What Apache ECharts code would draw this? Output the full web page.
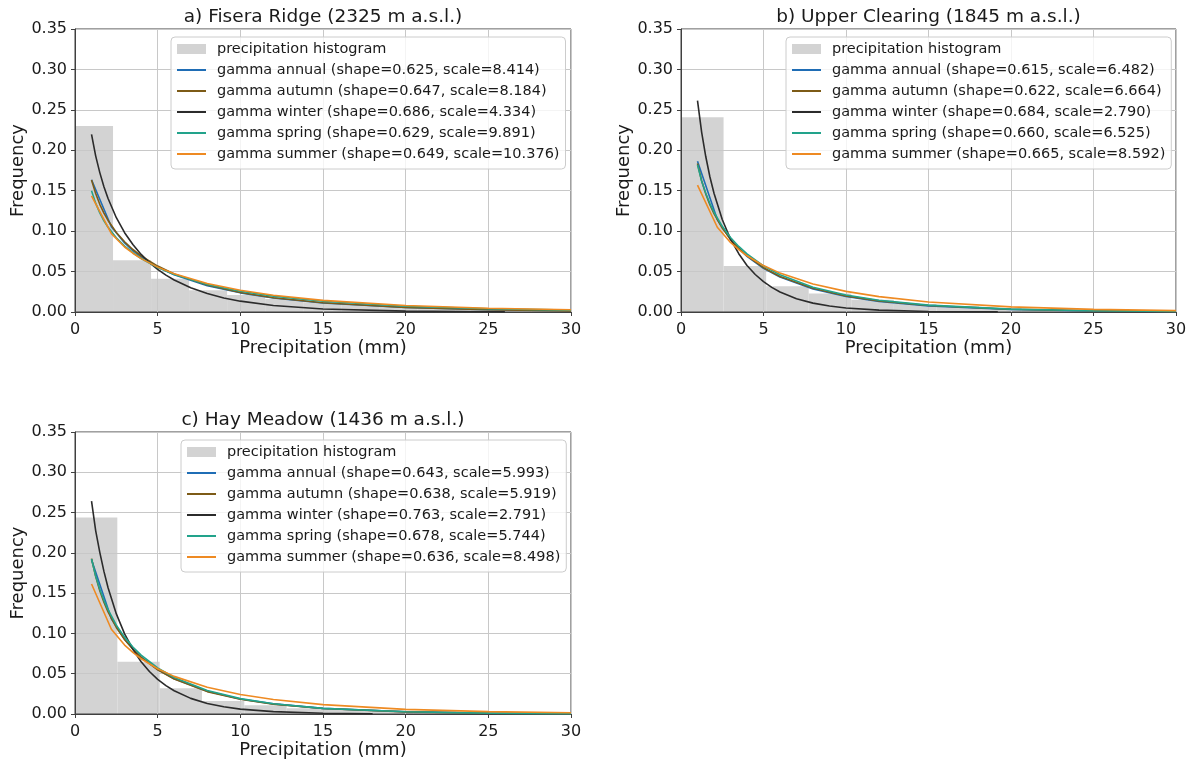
<!DOCTYPE html>
<html><head><meta charset="utf-8">
<script src="https://cdn.jsdelivr.net/npm/echarts@6/dist/echarts.min.js"></script>
<style>html,body{margin:0;padding:0;background:#fff}#c{width:1192px;height:764px}</style>
</head><body><div id="c"></div>
<script>
const FONT = 'DejaVu Sans';

// ---------- titles ----------
const titles = ['a) Fisera Ridge (2325 m a.s.l.)', 'b) Upper Clearing (1845 m a.s.l.)', 'c) Hay Meadow (1436 m a.s.l.)'];
const xAxisName = 'Precipitation (mm)';
const yAxisName = 'Frequency';
const xTicks = [0, 5, 10, 15, 20, 25, 30];
const yTicks = [0, 0.05, 0.10, 0.15, 0.20, 0.25, 0.30, 0.35];
const histName = 'precipitation histogram';

// ---------- histograms (bin width in mm, heights) ----------
const binWidthA = 2.3;
const histA = [0.230, 0.064, 0.041, 0.027, 0.021, 0.016, 0.012, 0.009, 0.007, 0.005, 0.004, 0.003, 0.002, 0.002];
const binWidthB = 2.58;
const histB = [0.241, 0.057, 0.032, 0.023, 0.015, 0.010, 0.007, 0.005, 0.003, 0.002, 0.002, 0.001];
const binWidthC = 2.56;
const histC = [0.244, 0.065, 0.032, 0.016, 0.011, 0.007, 0.005, 0.004, 0.003, 0.002, 0.002, 0.001];

// ---------- curve x grids ----------
const xsFine   = [1, 1.25, 1.5, 1.75, 2, 2.5, 3, 3.5, 4, 5, 6, 8, 10, 12, 15, 20, 25, 30];
const xsCoarse = [1, 2.2, 3, 3.5, 4, 5, 6, 8, 10, 12, 15, 20, 25, 30];
const xsWinterA = [1, 1.25, 1.5, 1.75, 2, 2.5, 3, 3.5, 4, 4.5, 5, 5.5, 6, 7, 8, 9, 10, 12, 15, 20, 25, 26];
const xsWinterB = [1, 1.25, 1.5, 1.75, 2, 2.5, 3, 3.5, 4, 4.5, 5, 5.5, 6, 7, 8, 9, 10, 12, 15, 19.2];
const xsWinterC = [1, 1.25, 1.5, 1.75, 2, 2.5, 3, 3.5, 4, 4.5, 5, 5.5, 6, 7, 8, 9, 10, 12, 15, 18];

// ---------- legend labels ----------
const labelsA = ['gamma annual (shape=0.625, scale=8.414)', 'gamma autumn (shape=0.647, scale=8.184)', 'gamma winter (shape=0.686, scale=4.334)', 'gamma spring (shape=0.629, scale=9.891)', 'gamma summer (shape=0.649, scale=10.376)'];
const labelsB = ['gamma annual (shape=0.615, scale=6.482)', 'gamma autumn (shape=0.622, scale=6.664)', 'gamma winter (shape=0.684, scale=2.790)', 'gamma spring (shape=0.660, scale=6.525)', 'gamma summer (shape=0.665, scale=8.592)'];
const labelsC = ['gamma annual (shape=0.643, scale=5.993)', 'gamma autumn (shape=0.638, scale=5.919)', 'gamma winter (shape=0.763, scale=2.791)', 'gamma spring (shape=0.678, scale=5.744)', 'gamma summer (shape=0.636, scale=8.498)'];

// ---------- curve values ----------
// panel a
const annualA = [0.1635, 0.1055, 0.0854, 0.0759, 0.0681, 0.0556, 0.0461, 0.0326, 0.0237, 0.0174, 0.0112, 0.0056, 0.0028, 0.0015];
const autumnA = [0.1633, 0.1465, 0.1332, 0.1223, 0.1132, 0.0984, 0.0868, 0.0773, 0.0694, 0.0568, 0.0471, 0.0333, 0.0241, 0.0177, 0.0114, 0.0056, 0.0028, 0.0014];
const winterA = [0.2198, 0.1931, 0.1724, 0.1549, 0.1404, 0.1166, 0.0981, 0.0834, 0.0712, 0.0611, 0.0527, 0.0456, 0.0395, 0.0299, 0.0228, 0.0174, 0.0134, 0.0080, 0.0037, 0.0011, 0.0003, 0.0002];
const springA = [0.1499, 0.1346, 0.1226, 0.1128, 0.1047, 0.0917, 0.0815, 0.0733, 0.0662, 0.0551, 0.0465, 0.0341, 0.0257, 0.0196, 0.0133, 0.0072, 0.0040, 0.0023];
const summerA = [0.1435, 0.0969, 0.0804, 0.0727, 0.0660, 0.0555, 0.0472, 0.0352, 0.0269, 0.0208, 0.0144, 0.0080, 0.0046, 0.0027];
// panel b
const annualB = [0.1865, 0.1144, 0.0897, 0.0786, 0.0688, 0.0541, 0.0433, 0.0284, 0.0192, 0.0131, 0.0076, 0.0031, 0.0013, 0.0006];
const autumnB = [0.1836, 0.1624, 0.1461, 0.1326, 0.1216, 0.1037, 0.0898, 0.0786, 0.0693, 0.0548, 0.0440, 0.0293, 0.0199, 0.0138, 0.0081, 0.0034, 0.0015, 0.0007];
const winterB = [0.2615, 0.2225, 0.1923, 0.1673, 0.1468, 0.1144, 0.0902, 0.0721, 0.0576, 0.0464, 0.0375, 0.0304, 0.0247, 0.0165, 0.0110, 0.0074, 0.0050, 0.0023, 0.0007, 0.0002];
const springB = [0.1821, 0.1620, 0.1469, 0.1341, 0.1234, 0.1060, 0.0922, 0.0811, 0.0718, 0.0571, 0.0460, 0.0307, 0.0210, 0.0145, 0.0085, 0.0036, 0.0015, 0.0007];
const summerB = [0.1569, 0.1048, 0.0860, 0.0772, 0.0695, 0.0574, 0.0481, 0.0346, 0.0255, 0.0190, 0.0124, 0.0063, 0.0033, 0.0017];
// panel c
const annualC = [0.1914, 0.1182, 0.0926, 0.0810, 0.0707, 0.0553, 0.0438, 0.0283, 0.0187, 0.0126, 0.0070, 0.0028, 0.0011, 0.0005];
const autumnC = [0.1929, 0.1708, 0.1530, 0.1387, 0.1267, 0.1074, 0.0924, 0.0805, 0.0703, 0.0548, 0.0433, 0.0278, 0.0183, 0.0122, 0.0068, 0.0026, 0.0010, 0.0004];
const winterC = [0.2642, 0.2276, 0.2006, 0.1770, 0.1567, 0.1242, 0.0995, 0.0804, 0.0649, 0.0528, 0.0430, 0.0352, 0.0288, 0.0194, 0.0131, 0.0089, 0.0061, 0.0029, 0.0009, 0.0003];
const springC = [0.1924, 0.1712, 0.1548, 0.1411, 0.1294, 0.1103, 0.0954, 0.0832, 0.0730, 0.0571, 0.0453, 0.0291, 0.0191, 0.0127, 0.0070, 0.0027, 0.0011, 0.0004];
const summerC = [0.1614, 0.1052, 0.0855, 0.0765, 0.0685, 0.0561, 0.0467, 0.0332, 0.0242, 0.0179, 0.0116, 0.0058, 0.0030, 0.0015];

const colors = ['#1f6db5', '#7d5b17', '#2b2b2b', '#22a38b', '#ee8a22'];
const histColor = '#d3d3d3';

// ---------- layout ----------
const grids = [
  {left: 75, top: 29, width: 496, height: 283},
  {left: 681, top: 29, width: 495, height: 283},
  {left: 75, top: 432, width: 496, height: 282}
];
const legendPos = [{left: 171, top: 37}, {left: 786, top: 37}, {left: 181, top: 440}];

const panels = [
  {hist: histA, bw: binWidthA, labels: labelsA,
   curves: [[xsCoarse, annualA], [xsFine, autumnA], [xsWinterA, winterA], [xsFine, springA], [xsCoarse, summerA]]},
  {hist: histB, bw: binWidthB, labels: labelsB,
   curves: [[xsCoarse, annualB], [xsFine, autumnB], [xsWinterB, winterB], [xsFine, springB], [xsCoarse, summerB]]},
  {hist: histC, bw: binWidthC, labels: labelsC,
   curves: [[xsCoarse, annualC], [xsFine, autumnC], [xsWinterC, winterC], [xsFine, springC], [xsCoarse, summerC]]}
];

const axisColor = '#404040';
const textColor = '#1a1a1a';
const gridLineColor = '#c8c8c8';

const option = {
  animation: false,
  backgroundColor: '#ffffff',
  grid: grids.map(g => Object.assign({show: true, borderColor: axisColor, borderWidth: 1, backgroundColor: 'transparent'}, g)),
  xAxis: [], yAxis: [], series: [], legend: [], graphic: []
};

panels.forEach((p, i) => {
  const g = grids[i];
  option.xAxis.push({
    type: 'value', gridIndex: i, min: xTicks[0], max: xTicks[xTicks.length - 1], interval: 5,
    name: xAxisName, nameLocation: 'middle', nameGap: 26,
    nameTextStyle: {fontSize: 18, fontFamily: FONT, color: textColor},
    axisLine: {show: true, onZero: false, lineStyle: {color: axisColor, width: 1}},
    axisTick: {show: true, length: 4, lineStyle: {color: axisColor, width: 1}},
    axisLabel: {fontSize: 16, fontFamily: FONT, color: textColor, margin: 10},
    splitLine: {show: true, lineStyle: {color: gridLineColor, width: 1}}
  });
  option.yAxis.push({
    type: 'value', gridIndex: i, min: yTicks[0], max: yTicks[yTicks.length - 1], interval: 0.05,
    name: yAxisName, nameLocation: 'middle', nameGap: 48,
    nameTextStyle: {fontSize: 18, fontFamily: FONT, color: textColor},
    axisLine: {show: true, onZero: false, lineStyle: {color: axisColor, width: 1}},
    axisTick: {show: true, length: 4, lineStyle: {color: axisColor, width: 1}},
    axisLabel: {fontSize: 16, fontFamily: FONT, color: textColor, margin: 8, formatter: v => v.toFixed(2)},
    splitLine: {show: true, lineStyle: {color: gridLineColor, width: 1}}
  });
  // histogram
  option.series.push({
    type: 'custom', name: histName, xAxisIndex: i, yAxisIndex: i, z: -1,
    itemStyle: {color: histColor},
    encode: {x: [0, 1], y: 2},
    data: p.hist.map((h, k) => [k * p.bw, (k + 1) * p.bw, h]),
    renderItem: (params, api) => {
      const a = api.coord([api.value(0), api.value(2)]);
      const b = api.coord([api.value(1), 0]);
      const rect = echarts.graphic.clipRectByRect(
        {x: a[0], y: a[1], width: b[0] - a[0], height: b[1] - a[1]},
        {x: params.coordSys.x, y: params.coordSys.y, width: params.coordSys.width, height: params.coordSys.height});
      return rect && {type: 'rect', shape: rect, style: {fill: histColor}};
    }
  });
  p.curves.forEach((c, k) => {
    const xs = c[0], ys = c[1];
    option.series.push({
      type: 'line', name: p.labels[k], xAxisIndex: i, yAxisIndex: i, z: 3 + k,
      symbol: 'none', smooth: false, clip: true,
      lineStyle: {width: 1.6, color: colors[k]}, itemStyle: {color: colors[k]},
      data: xs.map((x, j) => [x, ys[j]])
    });
  });
  option.legend.push({
    left: legendPos[i].left, top: legendPos[i].top, orient: 'vertical',
    data: [{name: histName, icon: 'rect'}].concat(p.labels.map(n => ({
      name: n, itemStyle: {color: 'rgba(0,0,0,0)', borderWidth: 0, opacity: 0}
    }))),
    itemWidth: 29, itemHeight: 10, itemGap: 5, padding: [4, 6, 7, 5],
    backgroundColor: 'rgba(255,255,255,0.8)', borderColor: '#cccccc', borderWidth: 1, borderRadius: 4,
    selectedMode: false,
    textStyle: {fontSize: 14.5, fontFamily: FONT, color: textColor, lineHeight: 16, padding: [0, 0, 0, 6]}
  });
  option.graphic.push({
    type: 'text', x: g.left + g.width / 2, y: g.top - 12,
    style: {text: titles[i], font: '18.5px "DejaVu Sans"', fill: textColor, align: 'center', verticalAlign: 'middle'}
  });
});

const chart = echarts.init(document.getElementById('c'), null, {renderer: 'canvas'});
chart.setOption(option);
</script>
</body></html>
